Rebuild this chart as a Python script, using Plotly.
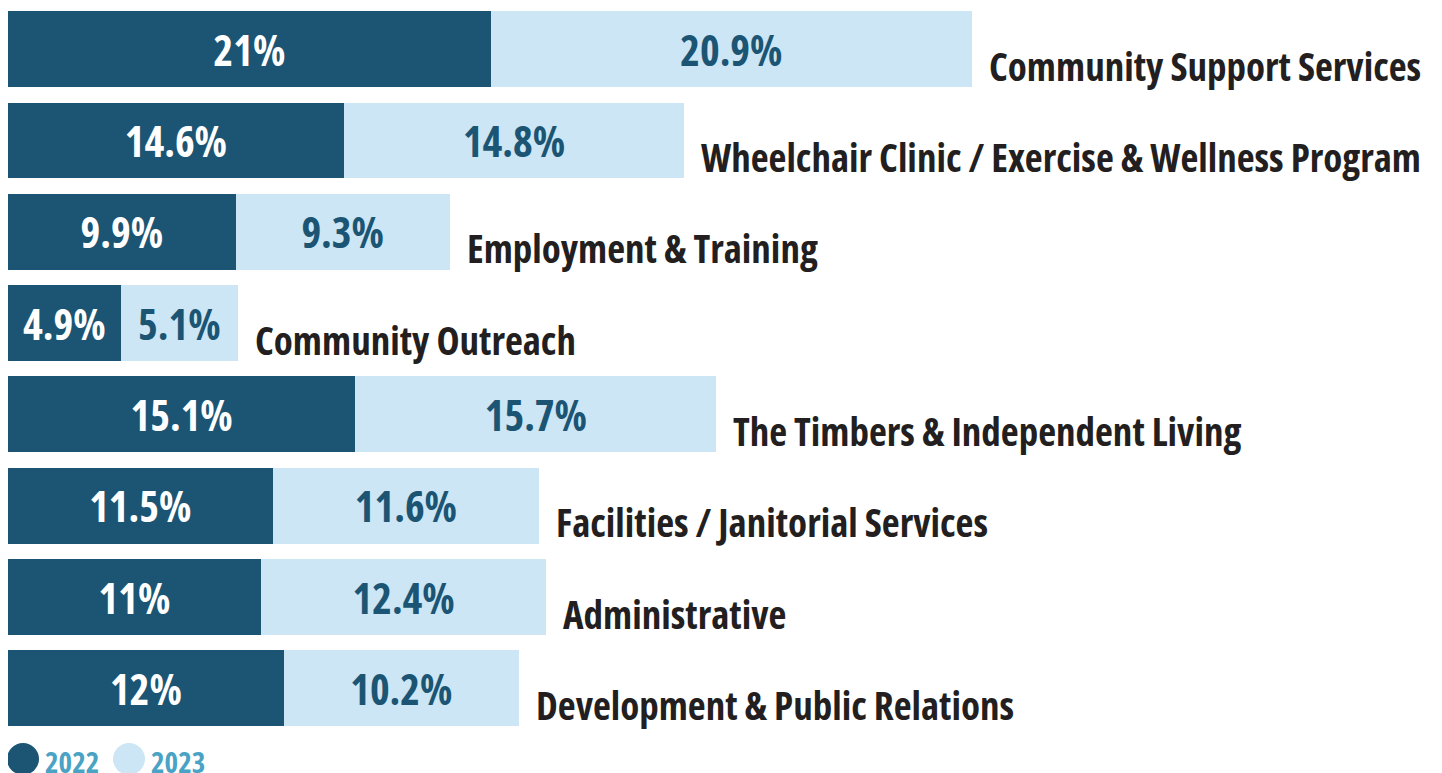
import plotly.graph_objects as go

categories = [
    "Community Support Services",
    "Wheelchair Clinic / Exercise & Wellness Program",
    "Employment & Training",
    "Community Outreach",
    "The Timbers & Independent Living",
    "Facilities / Janitorial Services",
    "Administrative",
    "Development & Public Relations",
]
values_2022 = [21, 14.6, 9.9, 4.9, 15.1, 11.5, 11, 12]
values_2023 = [20.9, 14.8, 9.3, 5.1, 15.7, 11.6, 12.4, 10.2]
series_names = ["2022", "2023"]

DARK = "#1b5573"
LIGHT = "#cce6f5"
LABEL = "#231f20"
LEGEND_TXT = "#4aa3c4"
FONT = "Open Sans, Roboto, DejaVu Sans Condensed, sans-serif"


def cond(s):
    return f'<span style="font-stretch:condensed">{s}</span>'


def fmt(v):
    return cond(f"{v:g}%")


PCT_SIZE = 42

fig = go.Figure()
fig.add_trace(go.Bar(
    y=categories, x=values_2022, orientation="h", name=series_names[0],
    marker=dict(color=DARK, line=dict(width=0)),
    text=[fmt(v) for v in values_2022], textposition="inside",
    insidetextanchor="middle", constraintext="none",
    textfont=dict(family=FONT, size=PCT_SIZE, color="white", weight="bold"),
    hoverinfo="skip", showlegend=False,
))
fig.add_trace(go.Bar(
    y=categories, x=values_2023, orientation="h", name=series_names[1],
    marker=dict(color=LIGHT, line=dict(width=0)),
    text=[fmt(v) for v in values_2023], textposition="inside",
    insidetextanchor="middle", constraintext="none",
    textfont=dict(family=FONT, size=PCT_SIZE, color=DARK, weight="bold"),
    hoverinfo="skip", showlegend=False,
))

annotations = []
for c, a, b in zip(categories, values_2022, values_2023):
    annotations.append(dict(
        x=a + b, y=c, xref="x", yref="y", text=cond(c), showarrow=False,
        xanchor="left", yanchor="middle", xshift=15, yshift=-16,
        font=dict(family=FONT, size=39, color=LABEL, weight="bold"),
    ))

# legend (drawn manually with circles and text)
legend_colors = [DARK, LIGHT]
legend_offsets = [0, 106]
shapes = []
for name, col, off in zip(series_names, legend_colors, legend_offsets):
    shapes.append(dict(
        type="circle", xref="paper", yref="paper", xsizemode="pixel", ysizemode="pixel",
        xanchor=0, yanchor=0, x0=off - 1, x1=off + 31, y0=-41, y1=-9,
        fillcolor=col, line=dict(width=0),
    ))
    annotations.append(dict(
        x=0, y=0, xref="paper", yref="paper", text=cond(name), showarrow=False,
        xanchor="left", yanchor="middle", xshift=off + 35, yshift=-27,
        font=dict(family=FONT, size=29, color=LEGEND_TXT, weight="bold"),
    ))

fig.update_layout(
    width=1442, height=773,
    barmode="stack", bargap=0.17,
    margin=dict(l=0, r=0, t=0, b=47),
    plot_bgcolor="white", paper_bgcolor="white",
    xaxis=dict(range=[0, 1442 / 23], visible=False, fixedrange=True),
    yaxis=dict(range=[7.5, -0.45], visible=False, fixedrange=True),
    uniformtext=dict(minsize=PCT_SIZE, mode="show"),
    annotations=annotations, shapes=shapes,
)

fig.write_html("out.html", config={"displayModeBar": False})
